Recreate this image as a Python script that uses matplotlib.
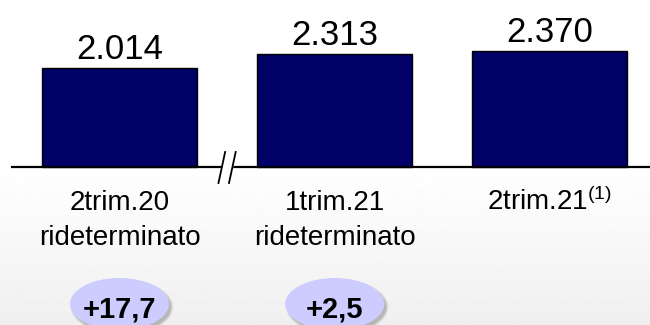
import matplotlib
matplotlib.use("Agg")
import matplotlib.pyplot as plt
from matplotlib.patches import Ellipse, Polygon
import numpy as np

plt.rcParams["font.family"] = ["Liberation Sans", "DejaVu Sans"]
plt.rcParams["mathtext.fontset"] = "custom"
plt.rcParams["mathtext.rm"] = "Liberation Sans"
plt.rcParams["mathtext.it"] = "Liberation Sans"

# data
periods = ["2trim.20", "1trim.21", "2trim.21$^{\\mathrm{(1)}}$"]
subtitles = ["rideterminato", "rideterminato", ""]
values = [2014, 2313, 2370]
value_labels = ["2.014", "2.313", "2.370"]
changes = ["+17,7", "+2,5"]

# scale: 1 px ~ 20.43 units, baseline at 167 px from top
px = 20.43
fig = plt.figure(figsize=(6.5, 3.25), dpi=100)
ax = fig.add_axes([0, 0, 1, 1])
ax.set_xlim(-0.555, 2.465)
ax.set_ylim(-158 * px, 167 * px)
ax.axis("off")

# light background gradient under the axis
grad = np.linspace(0, 1, 200).reshape(-1, 1)
ax.imshow(1 - 0.06 * grad, cmap="gray", vmin=0, vmax=1, aspect="auto",
          extent=(-0.555, 2.465, -158 * px, 0), zorder=0)

x = np.arange(len(values))
ax.bar(x, values, width=0.72, color="#000066", edgecolor="black",
       linewidth=1, zorder=2)
ax.plot([-0.5, 2.465], [0, 0], color="black", lw=1.6, zorder=3)

# axis break between first and second bar
mid = 0.5
ax.add_patch(Polygon([(mid - 0.04, -16 * px), (mid - 0.009, 15 * px),
                      (mid + 0.042, 15 * px), (mid + 0.009, -16 * px)],
                     closed=True, color="white", zorder=4))
for dx in (-0.04, 0.009):
    ax.plot([mid + dx, mid + dx + 0.031], [-16 * px, 15 * px],
            color="black", lw=1.3, zorder=5)

for i, v in enumerate(values):
    ax.text(i, v + 9 * px, value_labels[i], ha="center", va="baseline",
            fontsize=25, zorder=6)
    ax.text(i, -43 * px, periods[i], ha="center", va="baseline",
            fontsize=20, zorder=6)
    if subtitles[i]:
        ax.text(i, -78 * px, subtitles[i], ha="center", va="baseline",
                fontsize=20, zorder=6)

for i, c in enumerate(changes):
    cy = -137 * px
    for k, a in enumerate([0.10, 0.12, 0.15]):
        ax.add_patch(Ellipse((i + 0.012, cy - 3 * px), 0.475 - 0.01 * k,
                             (56 - 2 * k) * px, color="#444444", alpha=a,
                             lw=0, zorder=5))
    ax.add_patch(Ellipse((i, cy), 0.46, 52 * px, color="#ccccff", lw=0,
                         zorder=6))
    ax.text(i, -150 * px, c, ha="center", va="baseline", fontsize=21,
            fontweight="bold", zorder=7)

fig.savefig("out.png", dpi=100)
